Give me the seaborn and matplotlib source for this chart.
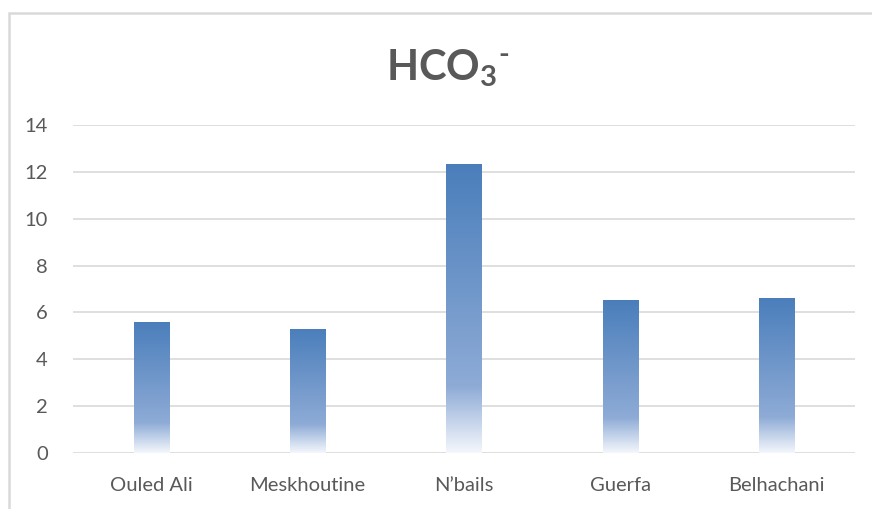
import numpy as np
import pandas as pd
import matplotlib
matplotlib.use("Agg")
import matplotlib.pyplot as plt
import seaborn as sns
from matplotlib.colors import LinearSegmentedColormap
from matplotlib.patches import Rectangle


# ----------------------------
# Data
# ----------------------------

sites = ["Ouled Ali", "Meskhoutine", "N\u2019bails", "Guerfa", "Belhachani"]
hco3 = [5.6, 5.3, 12.33, 6.53, 6.62]
yticks = [0, 2, 4, 6, 8, 10, 12, 14]

df = pd.DataFrame({"site": sites, "hco3": hco3})


# ----------------------------
# Style
# ----------------------------

sns.set_theme(style="white")
plt.rcParams["font.family"] = ["Lato", "DejaVu Sans"]
plt.rcParams["mathtext.fontset"] = "custom"
plt.rcParams["mathtext.rm"] = "Lato:bold"
plt.rcParams["mathtext.bf"] = "Lato:bold"

text_col = "#595959"
grid_col = "#d9d9d9"

fig = plt.figure(figsize=(8.72, 5.09), dpi=100)
ax = fig.add_axes([73 / 872, 56 / 509, 782 / 872, 328 / 509])

# outer chart border (only top / left visible in the crop)
fig.patches.append(Rectangle((8.5 / 872, -0.1), 1.2, (509 - 13) / 509 + 0.1,
                             transform=fig.transFigure, fill=False,
                             edgecolor=grid_col, linewidth=1.8))

sns.barplot(data=df, x="site", y="hco3", color="#4f81bd", width=0.224,
            saturation=1, ax=ax)

ax.set_ylim(0, 14)
ax.set_xlim(-0.5, len(sites) - 0.5)
ax.set_yticks(yticks)
ax.yaxis.grid(True, color=grid_col, linewidth=1.2)
ax.set_axisbelow(True)
sns.despine(ax=ax, left=True, bottom=True)

# ----------------------------
# Gradient fill on bars
# ----------------------------

grad = LinearSegmentedColormap.from_list(
    "excel_grad",
    [(0.0, "#f4f7fc"), (0.23, "#8eabd6"), (1.0, "#4a7ebb")])
g = np.linspace(0, 1, 256).reshape(-1, 1)

for p in ax.patches:
    x0, y0 = p.get_x(), p.get_y()
    w, h = p.get_width(), p.get_height()
    im = ax.imshow(g, cmap=grad, origin="lower", aspect="auto",
                   extent=[x0, x0 + w, y0, y0 + h], zorder=2)
    im.set_clip_path(p)
    p.set_facecolor("none")
    p.set_edgecolor("none")

ax.set_ylim(0, 14)
ax.set_xlim(-0.5, len(sites) - 0.5)

# ----------------------------
# Labels
# ----------------------------

ax.set_xlabel("")
ax.set_ylabel("")
ax.tick_params(axis="both", colors=text_col, labelsize=14.5, length=0)
ax.tick_params(axis="y", pad=18)
ax.tick_params(axis="x", pad=17)

fig.text(448 / 872, (509 - 68) / 509, r"HCO$_\mathrm{3}{}^\text{-}$",
         ha="center", va="center", fontsize=30, fontweight="bold",
         color=text_col)

fig.savefig("out.png", dpi=100, facecolor="white")
